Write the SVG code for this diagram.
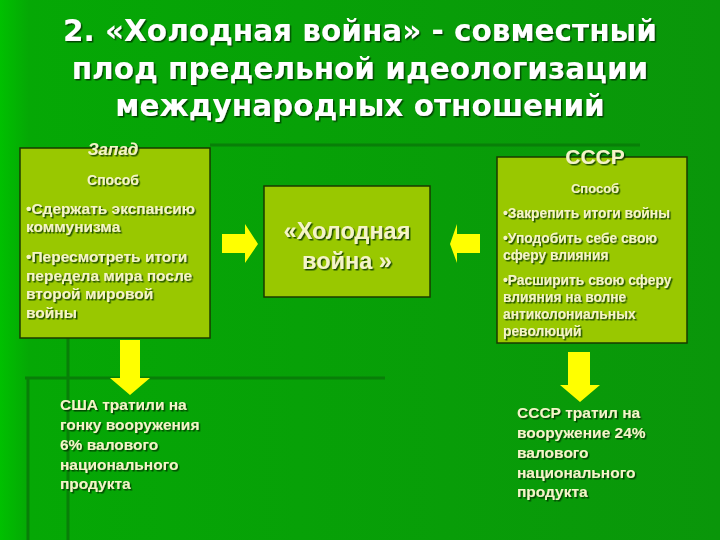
<svg xmlns="http://www.w3.org/2000/svg" width="720" height="540" viewBox="0 0 720 540">
<defs>
<linearGradient id="bg" x1="0" y1="0" x2="1" y2="0">
<stop offset="0" stop-color="#00c000"/><stop offset="0.04" stop-color="#05a805"/><stop offset="1" stop-color="#0a960a"/>
</linearGradient>
<filter id="sh" x="-5%" y="-5%" width="110%" height="120%"><feDropShadow dx="1.5" dy="1.5" stdDeviation="0.5" flood-color="#003300" flood-opacity="0.8"/></filter>
</defs>
<style>
.box{fill:#99c800;stroke:#1a3a00;stroke-width:1.5}
.t{font-family:"Liberation Sans",Arial,sans-serif;fill:#f4f4c8;font-weight:bold;filter:url(#sh)}
.title{font-family:"DejaVu Sans",sans-serif;fill:#ffffff;font-weight:bold;font-size:29.5px;text-anchor:middle;filter:url(#sh)}
.arr{fill:#ffff00}
.deco{stroke:#087f08;stroke-width:3;fill:none}
</style>
<rect width="720" height="540" fill="url(#bg)"/>
<path class="deco" d="M210 145H640M68 338V540M25 378H385M28 378V540"/>
<text class="title" x="360" y="41">2. «Холодная война» - совместный</text>
<text class="title" x="360" y="79">плод предельной идеологизации</text>
<text class="title" x="360" y="116">международных отношений</text>
<g id="west">
<rect class="box" x="20" y="148" width="190" height="190"/>
<text class="t" x="113" y="155" font-size="17" font-style="italic" text-anchor="middle">Запад</text>
<text class="t" x="113" y="185" font-size="14" text-anchor="middle">Способ</text>
<text class="t" font-size="15.5"><tspan x="26" y="214">•Сдержать экспансию</tspan><tspan x="26" y="232">коммунизма</tspan><tspan x="26" y="262">•Пересмотреть итоги</tspan><tspan x="26" y="281">передела мира после</tspan><tspan x="26" y="299">второй мировой</tspan><tspan x="26" y="318">войны</tspan></text>
</g>
<g id="center">
<rect class="box" x="264" y="186" width="166" height="111"/>
<text class="t" font-size="23.5" text-anchor="middle"><tspan x="347" y="239">«Холодная</tspan><tspan x="347" y="269">война »</tspan></text>
</g>
<g id="ussr">
<rect class="box" x="497" y="157" width="190" height="186"/>
<text class="t" x="595" y="164" font-size="21" text-anchor="middle">СССР</text>
<text class="t" x="595" y="193" font-size="13" text-anchor="middle">Способ</text>
<text class="t" font-size="13.8"><tspan x="503" y="218">•Закрепить итоги войны</tspan><tspan x="503" y="243">•Уподобить себе свою</tspan><tspan x="503" y="260">сферу влияния</tspan><tspan x="503" y="285">•Расширить свою сферу</tspan><tspan x="503" y="302">влияния на волне</tspan><tspan x="503" y="319">антиколониальных</tspan><tspan x="503" y="336">революций</tspan></text>
</g>
<g id="connectors">
<polygon class="arr" points="222,234 245,234 245,224 258,244 245,263 245,253 222,253"/>
<polygon class="arr" points="480,234 457,234 457,224 450,244 457,263 457,253 480,253"/>
<polygon class="arr" points="120,340 140,340 140,378 150,378 130,395 110,378 120,378"/>
<polygon class="arr" points="568,352 590,352 590,385 600,385 580,402 560,385 568,385"/>
</g>
<g id="usa-note">
<text class="t" font-size="15.5"><tspan x="60" y="410">США тратили на</tspan><tspan x="60" y="430">гонку вооружения</tspan><tspan x="60" y="450">6% валового</tspan><tspan x="60" y="470">национального</tspan><tspan x="60" y="489">продукта</tspan></text>
</g>
<g id="ussr-note">
<text class="t" font-size="15.5"><tspan x="517" y="418">СССР тратил на</tspan><tspan x="517" y="438">вооружение 24%</tspan><tspan x="517" y="458">валового</tspan><tspan x="517" y="478">национального</tspan><tspan x="517" y="497">продукта</tspan></text>
</g>
</svg>
